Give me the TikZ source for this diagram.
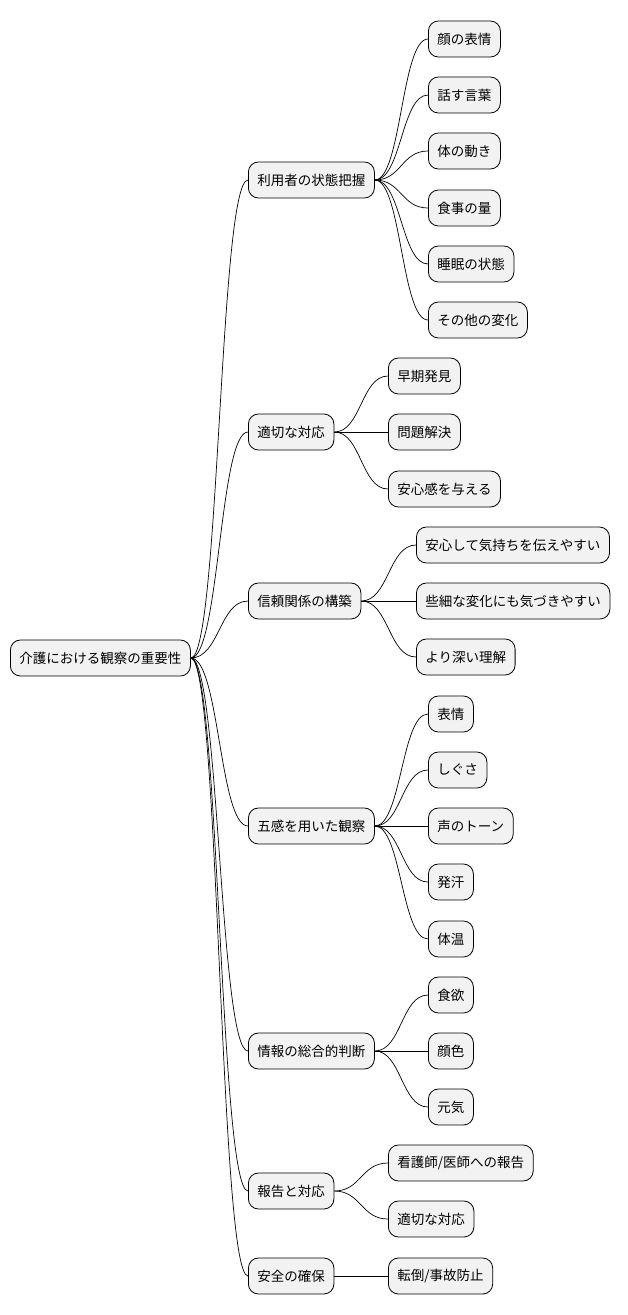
\documentclass[tikz,border=0pt]{standalone}
\usepackage{fontspec}
\setmainfont{Noto Sans CJK JP}
\usetikzlibrary{calc}
\tikzset{
  topic/.style={draw=black, line width=0.8pt, fill=black!5, rounded corners=10pt,
    anchor=west, minimum height=36pt, inner xsep=9pt, font=\fontsize{13.5}{16}\selectfont},
  link/.style={line width=0.7pt}
}
\begin{document}
\begin{tikzpicture}[x=1pt,y=-1pt]
		\useasboundingbox (0,0) rectangle (628,1315);

		\node[topic] (root) at (10,658) {介護における観察の重要性};

		\node[topic] (a) at (248,180) {利用者の状態把握};
		\node[topic] (b) at (248,432) {適切な対応};
		\node[topic] (c) at (248,601) {信頼関係の構築};
		\node[topic] (d) at (248,826) {五感を用いた観察};
		\node[topic] (e) at (248,1051) {情報の総合的判断};
		\node[topic] (f) at (248,1191) {報告と対応};
		\node[topic] (g) at (248,1276) {安全の確保};

		\node[topic] (a1) at (428,39) {顔の表情};
		\node[topic] (a2) at (428,95) {話す言葉};
		\node[topic] (a3) at (428,151) {体の動き};
		\node[topic] (a4) at (428,208) {食事の量};
		\node[topic] (a5) at (428,264) {睡眠の状態};
		\node[topic] (a6) at (428,320) {その他の変化};

		\node[topic] (b1) at (388,376) {早期発見};
		\node[topic] (b2) at (388,432) {問題解決};
		\node[topic] (b3) at (388,489) {安心感を与える};

		\node[topic] (c1) at (416,545) {安心して気持ちを伝えやすい};
		\node[topic] (c2) at (416,601) {些細な変化にも気づきやすい};
		\node[topic] (c3) at (416,657) {より深い理解};

		\node[topic] (d1) at (428,714) {表情};
		\node[topic] (d2) at (428,770) {しぐさ};
		\node[topic] (d3) at (428,826) {声のトーン};
		\node[topic] (d4) at (428,882) {発汗};
		\node[topic] (d5) at (428,939) {体温};

		\node[topic] (e1) at (428,995) {食欲};
		\node[topic] (e2) at (428,1051) {顔色};
		\node[topic] (e3) at (428,1107) {元気};

		\node[topic] (f1) at (388,1163) {看護師/医師への報告};
		\node[topic] (f2) at (388,1219) {適切な対応};

		\node[topic] (g1) at (388,1276) {転倒/事故防止};

		% branches
		\foreach \p/\k in {root/a,root/b,root/c,root/d,root/e,root/f,root/g,
		    a/a1,a/a2,a/a3,a/a4,a/a5,a/a6,b/b1,b/b2,b/b3,c/c1,c/c2,c/c3,
		    d/d1,d/d2,d/d3,d/d4,d/d5,e/e1,e/e2,e/e3,f/f1,f/f2,g/g1}
		  \draw[link] (\p.east) .. controls ($(\p.east)!0.5!(\k.west|-\p.east)$) and ($(\k.west)!0.5!(\p.east|-\k.west)$) .. (\k.west);
\end{tikzpicture}
\end{document}
